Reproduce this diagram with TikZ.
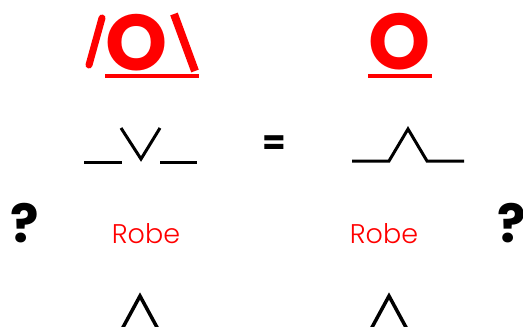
\documentclass[tikz,border=0pt]{standalone}
\usepackage{fontspec}
\setmainfont{Poppins}
\newfontfamily\robefont{Poppins}[UprightFont={* Light}]
\begin{document}
\begin{tikzpicture}[x=1pt,y=-1pt,every node/.style={inner sep=0pt,outer sep=0pt}]
      \tikzstyle{bigo}=[text=red,font=\fontsize{79}{79}\selectfont\bfseries]
      \tikzstyle{lbl}=[text=red,font=\fontsize{27}{27}\robefont,anchor=base]
      \tikzstyle{ask}=[font=\fontsize{53}{53}\selectfont\bfseries]
      \tikzstyle{ink}=[line width=3pt,line join=miter]
      \tikzstyle{bar}=[draw=red,line width=4pt]
      \useasboundingbox (0,0) rectangle (523,327);
      % top row
      \node[bigo] (ol) at (137,43) {O};
      \node[bigo] (or) at (400,42) {O};
      \draw[red,line width=7pt,line cap=round] (102,18) -- (89,65);
      \draw[red,line width=8pt] (174,14) -- (195,71);
      \draw[bar] (105,76) -- (199,76);
      \draw[bar] (368,76) -- (432,76);
      % middle row
      \draw[ink] (84,162) -- (122,162);
      \draw[ink] (121,128) -- (141,159) -- (160,128);
      \draw[ink] (160,162) -- (197,162);
      \node[font=\fontsize{34}{34}\selectfont\bfseries] (eq) at (274.5,145.5) {=};
      \draw[ink] (352,161) -- (389,161) -- (408,129) -- (427,161) -- (464,161);
      % labels
      \node[ask] (ql) at (25,223) {?};
      \node[ask] (qr) at (512,223) {?};
      \node[lbl] (rl) at (146,243) {Robe};
      \node[lbl] (rr) at (384,243) {Robe};
      % bottom row
      \draw[ink,line width=3.5pt] (121,331) -- (140,296) -- (159,331);
      \draw[ink,line width=3.5pt] (370,331) -- (389,296) -- (408,331);
    \end{tikzpicture}
\end{document}
